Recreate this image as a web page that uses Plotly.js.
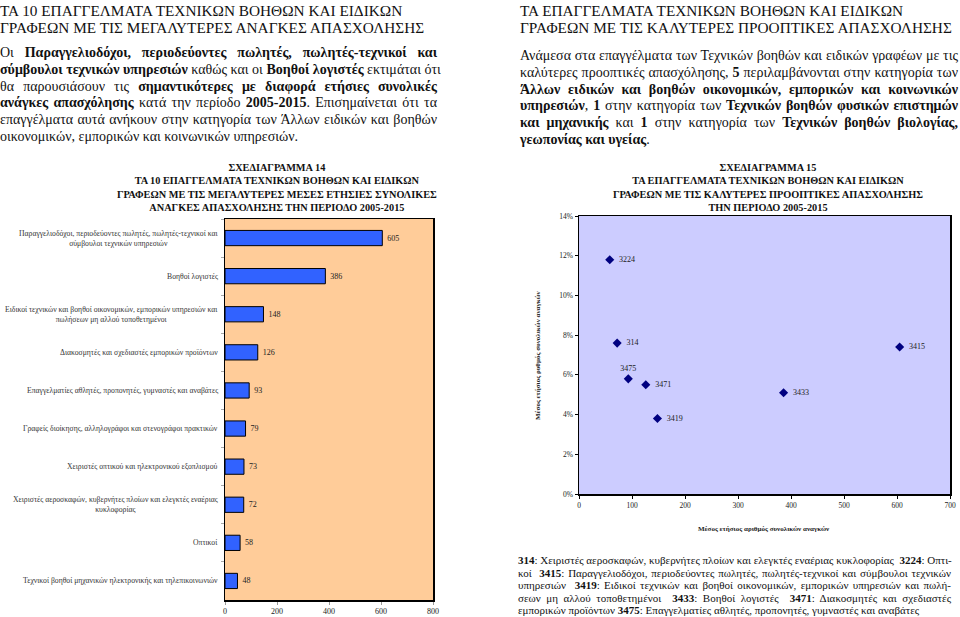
<!DOCTYPE html>
<html>
<head>
<meta charset="utf-8">
<script src="https://cdn.plot.ly/plotly-3.0.1.min.js"></script>
<style>
  html, body { margin: 0; padding: 0; background: #fff; }
  #wrap { position: relative; width: 960px; height: 617px; overflow: hidden; }
  #chart { position: absolute; left: 0; top: 0; width: 960px; height: 617px; }
  .txt { position: absolute; font-family: "Liberation Serif", "Times New Roman", serif; color: #111; z-index: 5; }
  .txt .ln { text-align: justify; text-align-last: justify; white-space: nowrap; }
  .txt .ln.last { text-align: left; text-align-last: left; }
  .head { font-size: 15.3px; line-height: 17px; }
  .par { font-size: 14px; line-height: 16.8px; }
  .foot { font-size: 11px; line-height: 12.5px; }
</style>
</head>
<body>
<div id="wrap">
  <div id="chart"></div>

  <div class="txt head" style="left:0px; top:2px; width:470px;">
    <div>ΤΑ 10 ΕΠΑΓΓΕΛΜΑΤΑ ΤΕΧΝΙΚΩΝ ΒΟΗΘΩΝ ΚΑΙ ΕΙΔΙΚΩΝ</div>
    <div>ΓΡΑΦΕΩΝ ΜΕ ΤΙΣ ΜΕΓΑΛΥΤΕΡΕΣ ΑΝΑΓΚΕΣ ΑΠΑΣΧΟΛΗΣΗΣ</div>
  </div>
  <div class="txt par" style="left:0px; top:45px; width:437px;">
    <div class="ln">Οι <b>Παραγγελιοδόχοι, περιοδεύοντες πωλητές, πωλητές-τεχνικοί και</b></div>
    <div class="ln"><b>σύμβουλοι τεχνικών υπηρεσιών</b> καθώς και οι <b>Βοηθοί λογιστές</b> εκτιμάται ότι</div>
    <div class="ln">θα παρουσιάσουν τις <b>σημαντικότερες με διαφορά ετήσιες συνολικές</b></div>
    <div class="ln"><b>ανάγκες απασχόλησης</b> κατά την περίοδο <b>2005-2015</b>. Επισημαίνεται ότι τα</div>
    <div class="ln">επαγγέλματα αυτά ανήκουν στην κατηγορία των Άλλων ειδικών και βοηθών</div>
    <div class="ln last">οικονομικών, εμπορικών και κοινωνικών υπηρεσιών.</div>
  </div>

  <div class="txt head" style="left:520px; top:2px; width:440px;">
    <div>ΤΑ ΕΠΑΓΓΕΛΜΑΤΑ ΤΕΧΝΙΚΩΝ ΒΟΗΘΩΝ ΚΑΙ ΕΙΔΙΚΩΝ</div>
    <div>ΓΡΑΦΕΩΝ ΜΕ ΤΙΣ ΚΑΛΥΤΕΡΕΣ ΠΡΟΟΠΤΙΚΕΣ ΑΠΑΣΧΟΛΗΣΗΣ</div>
  </div>
  <div class="txt par" style="left:520px; top:48px; width:438px;">
    <div class="ln">Ανάμεσα στα επαγγέλματα των Τεχνικών βοηθών και ειδικών γραφέων με τις</div>
    <div class="ln">καλύτερες προοπτικές απασχόλησης, <b>5</b> περιλαμβάνονται στην κατηγορία των</div>
    <div class="ln"><b>Άλλων ειδικών και βοηθών οικονομικών, εμπορικών και κοινωνικών</b></div>
    <div class="ln"><b>υπηρεσιών</b>, <b>1</b> στην κατηγορία των <b>Τεχνικών βοηθών φυσικών επιστημών</b></div>
    <div class="ln"><b>και μηχανικής</b> και <b>1</b> στην κατηγορία των <b>Τεχνικών βοηθών βιολογίας,</b></div>
    <div class="ln last"><b>γεωπονίας και υγείας</b>.</div>
  </div>

  <div class="txt foot" style="left:518px; top:554px; width:433px;">
    <div class="ln"><b>314</b>: Χειριστές αεροσκαφών, κυβερνήτες πλοίων και ελεγκτές εναέριας κυκλοφορίας &nbsp;<b>3224</b>: Οπτι-</div>
    <div class="ln">κοί &nbsp;<b>3415</b>: Παραγγελιοδόχοι, περιοδεύοντες πωλητές, πωλητές-τεχνικοί και σύμβουλοι τεχνικών</div>
    <div class="ln">υπηρεσιών &nbsp;<b>3419</b>: Ειδικοί τεχνικών και βοηθοί οικονομικών, εμπορικών υπηρεσιών και πωλή-</div>
    <div class="ln">σεων μη αλλού τοποθετημένοι &nbsp;<b>3433</b>: Βοηθοί λογιστές &nbsp;<b>3471</b>: Διακοσμητές και σχεδιαστές</div>
    <div class="ln last">εμπορικών προϊόντων <b>3475</b>: Επαγγελματίες αθλητές, προπονητές, γυμναστές και αναβάτες</div>
  </div>
</div>

<script>
// ---- Chart 14 data (bar) ----
const occupations = [
  "Παραγγελιοδόχοι, περιοδεύοντες πωλητές, πωλητές-τεχνικοί και<br>σύμβουλοι τεχνικών υπηρεσιών",
  "Βοηθοί λογιστές",
  "Ειδικοί τεχνικών και βοηθοί οικονομικών, εμπορικών υπηρεσιών και<br>πωλήσεων μη αλλού τοποθετημένοι",
  "Διακοσμητές και σχεδιαστές εμπορικών προϊόντων",
  "Επαγγελματίες αθλητές, προπονητές, γυμναστές και αναβάτες",
  "Γραφείς διοίκησης, αλληλογράφοι και στενογράφοι πρακτικών",
  "Χειριστές οπτικού και ηλεκτρονικού εξοπλισμού",
  "Χειριστές αεροσκαφών, κυβερνήτες πλοίων και ελεγκτές εναέριας<br>κυκλοφορίας",
  "Οπτικοί",
  "Τεχνικοί βοηθοί μηχανικών ηλεκτρονικής και τηλεπικοινωνιών"
];
const annualNeeds = [605, 386, 148, 126, 93, 79, 73, 72, 58, 48];
const barTicks = [0, 200, 400, 600, 800];

// ---- Chart 15 data (scatter) ----
const codes = ["3224", "314", "3475", "3471", "3419", "3433", "3415"];
const meanNeeds = [58, 72, 93, 126, 148, 386, 605];
const growthRate = [0.118, 0.076, 0.058, 0.055, 0.038, 0.051, 0.074];
const labelPos = ["middle right", "middle right", "top center", "middle right", "middle right", "middle right", "middle right"];

const serif = "Liberation Serif, Times New Roman, serif";
const W = 960, H = 617;
const px = v => v / W;
const py = v => 1 - v / H;

const bar = {
  type: "bar", orientation: "h",
  x: annualNeeds, y: occupations,
  xaxis: "x", yaxis: "y",
  width: 0.4,
  marker: { color: "#3162ff", line: { color: "#000", width: 1 } },
  text: annualNeeds.map(String),
  texttemplate: " %{text}",
  textposition: "outside",
  textfont: { family: serif, size: 8, color: "#222" },
  cliponaxis: false,
  hoverinfo: "skip"
};

const scat = {
  type: "scatter", mode: "markers+text",
  x: meanNeeds, y: growthRate,
  xaxis: "x2", yaxis: "y2",
  text: codes, textposition: labelPos,
  texttemplate: labelPos.map(p => p === "middle right" ? "  %{text}" : "%{text}"),
  textfont: { family: serif, size: 8, color: "#222" },
  marker: { symbol: "diamond", size: 7, color: "#000080" },
  cliponaxis: false,
  hoverinfo: "skip"
};

const annotations = [];
occupations.forEach(c => annotations.push({
  xref: "paper", yref: "y", x: px(220), y: c, xanchor: "right", yanchor: "middle",
  text: c, showarrow: false, align: "center",
  font: { family: serif, size: 7.7, color: "#333" }
}));
annotations.push({
  xref: "paper", yref: "paper", x: px(277), y: py(160), xanchor: "center", yanchor: "top",
  text: "<b>ΣΧΕΔΙΑΓΡΑΜΜΑ 14<br>ΤΑ 10 ΕΠΑΓΓΕΛΜΑΤΑ ΤΕΧΝΙΚΩΝ ΒΟΗΘΩΝ ΚΑΙ ΕΙΔΙΚΩΝ<br>ΓΡΑΦΕΩΝ ΜΕ ΤΙΣ ΜΕΓΑΛΥΤΕΡΕΣ ΜΕΣΕΣ ΕΤΗΣΙΕΣ ΣΥΝΟΛΙΚΕΣ<br>ΑΝΑΓΚΕΣ ΑΠΑΣΧΟΛΗΣΗΣ ΤΗΝ ΠΕΡΙΟΔΟ 2005-2015</b>",
  showarrow: false, align: "center", font: { family: serif, size: 10.3, color: "#111" }
});
annotations.push({
  xref: "paper", yref: "paper", x: px(768), y: py(160), xanchor: "center", yanchor: "top",
  text: "<b>ΣΧΕΔΙΑΓΡΑΜΜΑ 15<br>ΤΑ ΕΠΑΓΓΕΛΜΑΤΑ ΤΕΧΝΙΚΩΝ ΒΟΗΘΩΝ ΚΑΙ ΕΙΔΙΚΩΝ<br>ΓΡΑΦΕΩΝ ΜΕ ΤΙΣ ΚΑΛΥΤΕΡΕΣ ΠΡΟΟΠΤΙΚΕΣ ΑΠΑΣΧΟΛΗΣΗΣ<br>ΤΗΝ ΠΕΡΙΟΔΟ 2005-2015</b>",
  showarrow: false, align: "center", font: { family: serif, size: 10.3, color: "#111" }
});
annotations.push({
  xref: "paper", yref: "paper", x: px(538), y: py(355), xanchor: "center", yanchor: "middle",
  text: "<b>Μέσος ετήσιος ρυθμός συνολικών αναγκών</b>", textangle: -90,
  showarrow: false, font: { family: serif, size: 7, color: "#222" }
});
annotations.push({
  xref: "paper", yref: "paper", x: px(764), y: py(529), xanchor: "center", yanchor: "middle",
  text: "<b>Μέσος ετήσιος αριθμός συνολικών αναγκών</b>",
  showarrow: false, font: { family: serif, size: 7, color: "#222" }
});

const layout = {
  width: W, height: H,
  margin: { l: 0, r: 0, t: 0, b: 0 },
  paper_bgcolor: "rgba(0,0,0,0)",
  showlegend: false,
  font: { family: serif, color: "#222" },
  xaxis: {
    domain: [px(225), px(433)], anchor: "y",
    range: [0, 800], tickvals: barTicks, ticktext: barTicks.map(String),
    showgrid: false, zeroline: false,
    showline: true, mirror: true, linecolor: "#000", linewidth: 1.5,
    ticks: "outside", ticklen: 3, tickcolor: "#999",
    tickfont: { family: serif, size: 8, color: "#222" }
  },
  yaxis: {
    domain: [py(600), py(219)], anchor: "x",
    type: "category", autorange: "reversed",
    showticklabels: false, showgrid: false, zeroline: false,
    showline: true, mirror: true, linecolor: "#000", linewidth: 1.5,
    ticks: "outside", ticklen: 3, tickcolor: "#aaa", tickson: "boundaries"
  },
  xaxis2: {
    domain: [px(579), px(950)], anchor: "y2",
    range: [0, 700], dtick: 100,
    showgrid: false, zeroline: false,
    showline: true, mirror: true, linecolor: "#000", linewidth: 1.5,
    ticks: "outside", ticklen: 3, tickcolor: "#000",
    tickfont: { family: serif, size: 7.5, color: "#222" }
  },
  yaxis2: {
    domain: [py(494), py(216)], anchor: "x2",
    range: [0, 0.14], dtick: 0.02, tickformat: ".0%",
    showgrid: false, zeroline: false,
    showline: true, mirror: true, linecolor: "#000", linewidth: 1.5,
    ticks: "outside", ticklen: 3, tickcolor: "#000",
    tickfont: { family: serif, size: 7.5, color: "#222" }
  },
  plot_bgcolor: "rgba(0,0,0,0)",
  shapes: [
    { type: "rect", xref: "x domain", yref: "y domain", x0: 0, x1: 1, y0: 0, y1: 1, fillcolor: "#ffcc99", line: { width: 0 }, layer: "below" },
    { type: "rect", xref: "x2 domain", yref: "y2 domain", x0: 0, x1: 1, y0: 0, y1: 1, fillcolor: "#ccccff", line: { width: 0 }, layer: "below" }
  ],
  annotations: annotations
};

Plotly.newPlot("chart", [bar, scat], layout, { staticPlot: true, displayModeBar: false });
</script>
</body>
</html>
